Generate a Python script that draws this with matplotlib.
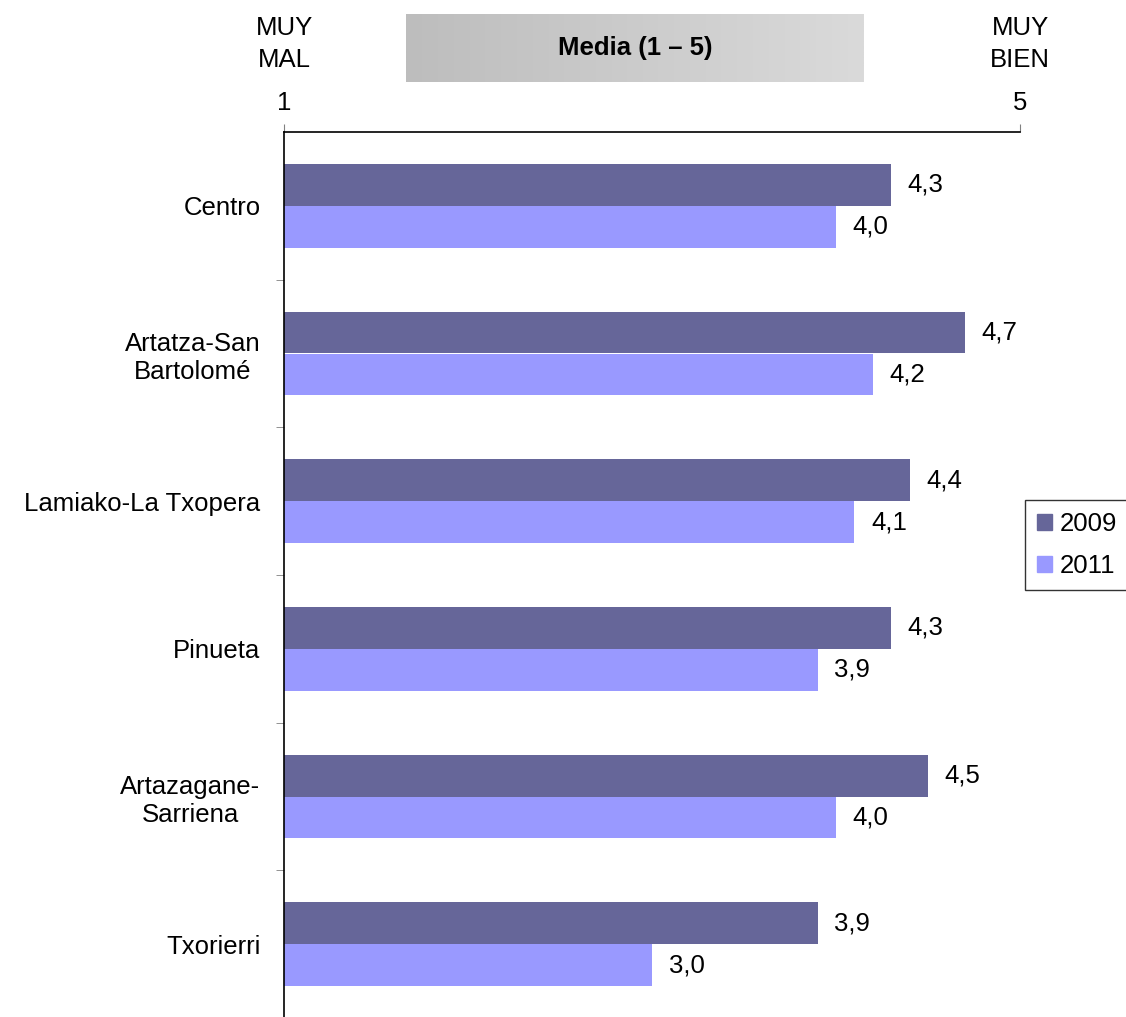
import numpy as np
import matplotlib
matplotlib.use("Agg")
import matplotlib.pyplot as plt
from matplotlib.patches import Patch

plt.rcParams['font.family'] = ['Liberation Sans', 'DejaVu Sans']

# ---------- data ----------
categories = ["Centro", "Artatza-San\nBartolomé", "Lamiako-La Txopera",
              "Pinueta", "Artazagane-\nSarriena", "Txorierri"]
values_2009 = [4.3, 4.7, 4.4, 4.3, 4.5, 3.9]
values_2011 = [4.0, 4.2, 4.1, 3.9, 4.0, 3.0]
series_labels = ["2009", "2011"]
colors = ["#666699", "#9999FF"]

FS = 18.5
W, H = 1126, 1017
fig = plt.figure(figsize=(W / 100, H / 100), dpi=100)

# main axes placed in pixel coords
left, right, top, bottom = 284, 1020, 132, 1018
ax = fig.add_axes([left / W, 1 - bottom / H, (right - left) / W, (bottom - top) / H])

y = np.arange(len(categories))
bh = 0.284
ax.barh(y - bh / 2, np.array(values_2009) - 1, height=bh, left=1, color=colors[0])
ax.barh(y + bh / 2, np.array(values_2011) - 1, height=bh, left=1, color=colors[1])

for yi, v in zip(y - bh / 2, values_2009):
    ax.text(v + 0.09, yi, f"{v:.1f}".replace(".", ","), va="center", ha="left", fontsize=FS)
for yi, v in zip(y + bh / 2, values_2011):
    ax.text(v + 0.09, yi, f"{v:.1f}".replace(".", ","), va="center", ha="left", fontsize=FS)

ax.set_xlim(1, 5)
ax.set_ylim(len(categories) - 0.5, -0.5)

# x axis on top
ax.xaxis.tick_top()
ax.set_xticks([1, 5])
ax.set_xticklabels(["1", "5"], fontsize=FS)
ax.tick_params(axis="x", colors="#808080", length=6, pad=6, labelcolor="black")

# category labels without tick marks, boundary ticks as minor
ax.set_yticks(y)
ax.set_yticklabels(categories, fontsize=FS, ha="right", multialignment="center")
ax.tick_params(axis="y", which="major", length=0, pad=17)
ax.set_yticks(np.arange(0.5, len(categories) - 0.5, 1), minor=True)
ax.tick_params(axis="y", which="minor", length=6, color="#808080")

for s in ["right", "bottom"]:
    ax.spines[s].set_visible(False)
for s in ["top", "left"]:
    ax.spines[s].set_color("black")
    ax.spines[s].set_linewidth(1.2)

# header texts
fig.text(284 / W, 1 - 44 / H, "MUY\nMAL", ha="center", va="center", fontsize=FS, linespacing=1.45)
fig.text(1020 / W, 1 - 44 / H, "MUY\nBIEN", ha="center", va="center", fontsize=FS, linespacing=1.45)

# gradient title box
bx = fig.add_axes([406 / W, 1 - 82 / H, (864 - 406) / W, (82 - 14) / H])
grad = np.linspace(0, 1, 256).reshape(1, -1)
bx.imshow(grad, aspect="auto", cmap=matplotlib.colors.LinearSegmentedColormap.from_list(
    "g", ["#bdbdbd", "#dadada"]), extent=[0, 1, 0, 1])
bx.set_axis_off()
bx.text(0.5, 0.5, "Media (1 – 5)", ha="center", va="center", fontsize=FS, fontweight="bold",
        transform=bx.transAxes)

# legend
handles = [Patch(color=c, label=l) for c, l in zip(colors, series_labels)]
leg = fig.legend(handles=handles, loc="center left", bbox_to_anchor=(1025 / W, 1 - 545 / H),
                 fontsize=FS, frameon=True, fancybox=False, edgecolor="black",
                 handlelength=0.6, handleheight=0.6, handletextpad=0.3, borderpad=0.45,
                 labelspacing=0.7, borderaxespad=0)
leg.get_frame().set_linewidth(1.0)

fig.savefig("out.png", dpi=100)
